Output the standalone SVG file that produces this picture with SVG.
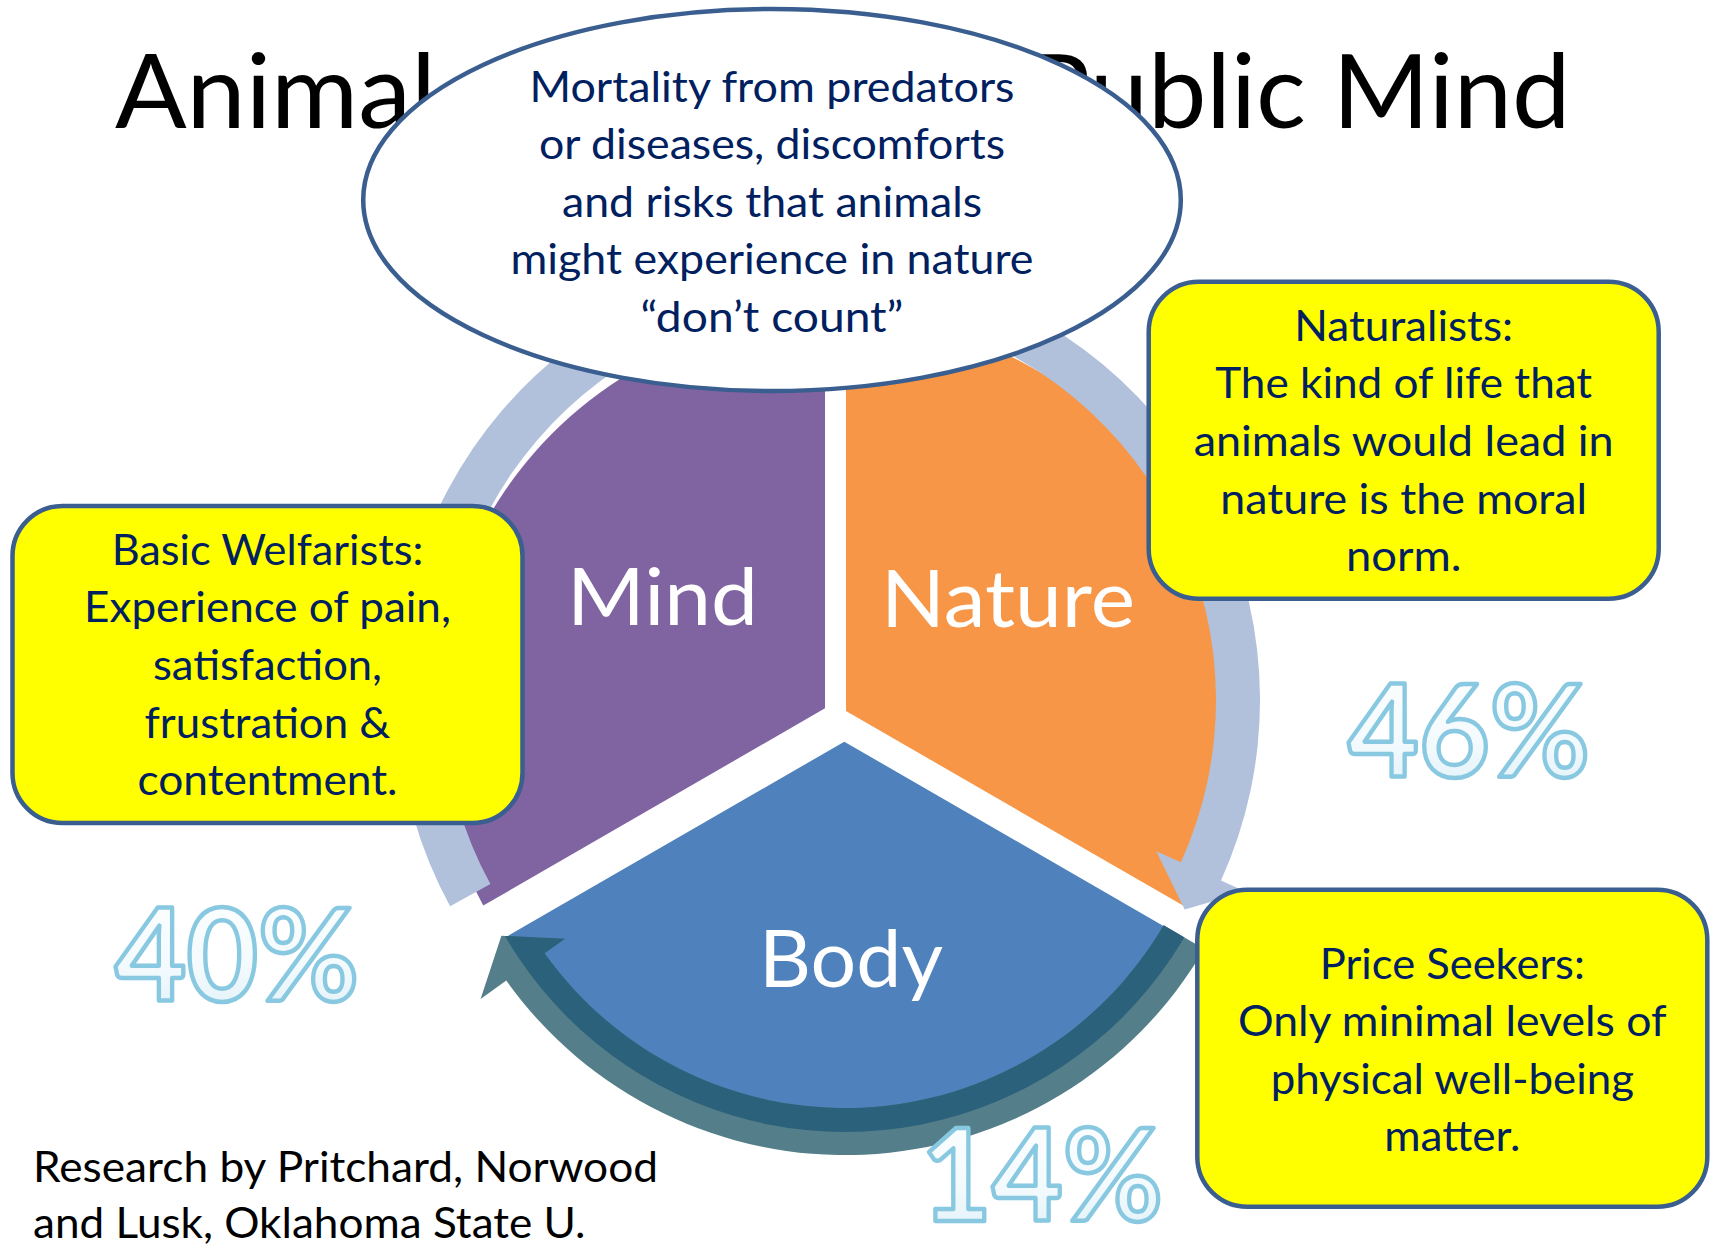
<svg xmlns="http://www.w3.org/2000/svg" width="1716" height="1248" viewBox="0 0 1716 1248">
  <style>
    .title { font-family: Lato, "Liberation Sans", sans-serif; font-size: 102px; fill: #000; }
    .seglbl { font-family: Lato, "Liberation Sans", sans-serif; font-size: 80px; fill: #ffffff; }
    .box { fill: #FFFF00; stroke: #3A5E8F; stroke-width: 4.5; }
    .btxt { font-family: Lato, "Liberation Sans", sans-serif; font-size: 43px; fill: #002060; text-anchor: middle; }
    .credit { font-family: Lato, "Liberation Sans", sans-serif; font-size: 43px; fill: #000; }
    .pct { font-family: Lato, "Liberation Sans", sans-serif; font-weight: bold; font-size: 128px; fill: url(#pg); stroke: #88C9E1; stroke-width: 4.5; stroke-linejoin: round; }
    .lightarrow { fill: #B1C1DC; }
  </style>
  <defs>
    <linearGradient id="pg" x1="0" y1="0" x2="0" y2="1">
      <stop offset="0" stop-color="#FFFFFF"/>
      <stop offset="0.6" stop-color="#F3FAFD"/>
      <stop offset="1" stop-color="#DCEFF7"/>
    </linearGradient>
    <clipPath id="bodyInner">
      <circle cx="845" cy="739" r="393"/>
    </clipPath>
  </defs>

  <rect width="1716" height="1248" fill="#ffffff"/>

  <g id="title">
    <text class="title" x="115" y="128" textLength="321" lengthAdjust="spacingAndGlyphs">Animal</text>
    <text class="title" x="1570.5" y="128" text-anchor="end" textLength="543" lengthAdjust="spacingAndGlyphs">Public Mind</text>
  </g>

  <g id="mind">
    <path d="M825,708.3 L825,316.1 A400,400 0 0 0 483.3,905.6 Z" fill="#8064A2"/>
    <text class="seglbl" x="567" y="625" textLength="191" lengthAdjust="spacingAndGlyphs">Mind</text>
  </g>
  <g id="nature">
    <path d="M846,711 L846,316.1 A400,400 0 0 1 1186.6,907.6 Z" fill="#F79646"/>
    <text class="seglbl" x="881" y="626.5" textLength="254" lengthAdjust="spacingAndGlyphs">Nature</text>
  </g>
  <g id="body">
    <path d="M844.3,741.7 L1185.5,938.7 A400,400 0 0 1 503.1,938.7 Z" fill="#4F81BD"/>
    <text class="seglbl" x="759" y="986.5" textLength="184" lengthAdjust="spacingAndGlyphs">Body</text>
  </g>

  <g id="connectors">
    <path id="mind-arrow" class="lightarrow" d="M450.1,906.2 A439,439 0 0 1 699.8,278.5 L691.5,252.8 L749,289.1 L722.4,347.9 L714.1,322.2 A393,393 0 0 0 490.4,884.1 Z"/>
    <path id="nature-arrow" class="lightarrow" d="M936.1,277.9 A437,437 0 0 1 1221,880.5 L1245.6,891.7 L1184.7,909.6 L1156.3,851.2 L1180.9,862.3 A393,393 0 0 0 924.7,320.4 Z"/>
    <g id="body-arrow">
      <path fill="#547F8A" d="M1204.2,948.9 A416,416 0 0 1 506.3,980.6 L480.6,998.9 L501.4,935.8 L565,938.8 L544.6,953.3 A369,369 0 0 0 1163.6,925.2 Z"/>
      <path fill="#2B617B" clip-path="url(#bodyInner)" d="M1204.2,948.9 A416,416 0 0 1 506.3,980.6 L480.6,998.9 L501.4,935.8 L565,938.8 L544.6,953.3 A369,369 0 0 0 1163.6,925.2 Z"/>
    </g>
  </g>

  <g id="callout">
    <ellipse cx="772" cy="200" rx="408.8" ry="191" fill="#ffffff" stroke="#3A5E8F" stroke-width="4.5"/>
    <text class="btxt" x="772" y="101.5" textLength="485" lengthAdjust="spacingAndGlyphs">Mortality from predators</text>
    <text class="btxt" x="772" y="159" textLength="466" lengthAdjust="spacingAndGlyphs">or diseases, discomforts</text>
    <text class="btxt" x="772" y="216.5" textLength="420" lengthAdjust="spacingAndGlyphs">and risks that animals</text>
    <text class="btxt" x="772" y="274" textLength="523" lengthAdjust="spacingAndGlyphs">might experience in nature</text>
    <text class="btxt" x="772" y="331.5" textLength="263" lengthAdjust="spacingAndGlyphs">“don’t count”</text>
  </g>

  <g id="basic-welfarists">
    <rect class="box" x="12.5" y="506" width="510" height="317" rx="50" ry="50"/>
    <text class="btxt" x="267.5" y="565" textLength="311.6" lengthAdjust="spacingAndGlyphs">Basic Welfarists:</text>
    <text class="btxt" x="267.5" y="622" textLength="366.8" lengthAdjust="spacingAndGlyphs">Experience of pain,</text>
    <text class="btxt" x="267.5" y="680" textLength="229" lengthAdjust="spacingAndGlyphs">satisfaction,</text>
    <text class="btxt" x="267.5" y="738" textLength="246" lengthAdjust="spacingAndGlyphs">frustration &amp;</text>
    <text class="btxt" x="267.5" y="795" textLength="260" lengthAdjust="spacingAndGlyphs">contentment.</text>
  </g>

  <g id="naturalists">
    <rect class="box" x="1148.7" y="281.7" width="510" height="317" rx="50" ry="50"/>
    <text class="btxt" x="1403.7" y="341" textLength="218.7" lengthAdjust="spacingAndGlyphs">Naturalists:</text>
    <text class="btxt" x="1403.7" y="397.7" textLength="377" lengthAdjust="spacingAndGlyphs">The kind of life that</text>
    <text class="btxt" x="1403.7" y="456" textLength="420" lengthAdjust="spacingAndGlyphs">animals would lead in</text>
    <text class="btxt" x="1403.7" y="514.3" textLength="366.7" lengthAdjust="spacingAndGlyphs">nature is the moral</text>
    <text class="btxt" x="1403.7" y="571" textLength="115.4" lengthAdjust="spacingAndGlyphs">norm.</text>
  </g>

  <g id="price-seekers">
    <rect class="box" x="1197.3" y="889.7" width="510" height="317" rx="50" ry="50"/>
    <text class="btxt" x="1452.3" y="979" textLength="265" lengthAdjust="spacingAndGlyphs">Price Seekers:</text>
    <text class="btxt" x="1452.3" y="1035.7" textLength="428.7" lengthAdjust="spacingAndGlyphs">Only minimal levels of</text>
    <text class="btxt" x="1452.3" y="1094" textLength="363.3" lengthAdjust="spacingAndGlyphs">physical well-being</text>
    <text class="btxt" x="1452.3" y="1150.7" textLength="136" lengthAdjust="spacingAndGlyphs">matter.</text>
  </g>

  <g id="percentages">
    <text class="pct" x="1348" y="777" textLength="242" lengthAdjust="spacingAndGlyphs">46%</text>
    <text class="pct" x="115" y="1001" textLength="244" lengthAdjust="spacingAndGlyphs">40%</text>
    <text class="pct" x="921" y="1221" font-size="122" textLength="242" lengthAdjust="spacingAndGlyphs">14%</text>
  </g>

  <g id="credit">
    <text class="credit" x="33" y="1182" textLength="625" lengthAdjust="spacingAndGlyphs">Research by Pritchard, Norwood</text>
    <text class="credit" x="33" y="1238" textLength="552.5" lengthAdjust="spacingAndGlyphs">and Lusk, Oklahoma State U.</text>
  </g>
</svg>
